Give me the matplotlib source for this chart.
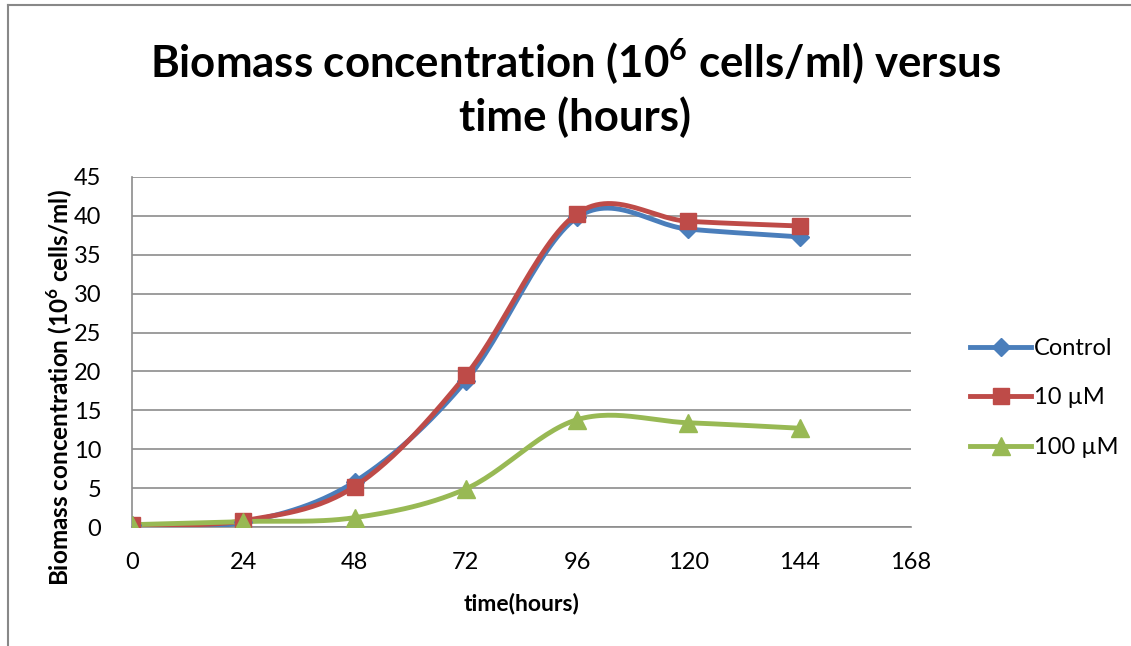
import matplotlib.pyplot as plt
from matplotlib.lines import Line2D
import numpy as np

plt.rcParams['font.family'] = ['Lato', 'DejaVu Sans']
plt.rcParams['mathtext.fontset'] = 'custom'
plt.rcParams['mathtext.rm'] = 'Lato'
plt.rcParams['mathtext.bf'] = 'Lato:bold'

hours = [0, 24, 48, 72, 96, 120, 144]
control = [0.2, 0.6, 5.8, 18.8, 39.8, 38.3, 37.3]
um10 = [0.3, 0.8, 5.2, 19.5, 40.3, 39.3, 38.7]
um100 = [0.3, 0.7, 1.2, 4.9, 13.8, 13.4, 12.7]
xticks = [0, 24, 48, 72, 96, 120, 144, 168]


def smooth(x, y, n=30):
    # Excel-like smoothed line: cubic bezier with catmull-rom control points
    x = np.asarray(x, float)
    y = np.asarray(y, float)
    p = np.column_stack([x, y])
    out = [p[0]]
    for i in range(len(p) - 1):
        p0 = p[i - 1] if i > 0 else p[i]
        p3 = p[i + 2] if i + 2 < len(p) else p[i + 1]
        c1 = p[i] + (p[i + 1] - p0) / 6
        c2 = p[i + 1] - (p3 - p[i]) / 6
        t = np.linspace(0, 1, n)[1:, None]
        seg = ((1 - t) ** 3 * p[i] + 3 * (1 - t) ** 2 * t * c1
               + 3 * (1 - t) * t ** 2 * c2 + t ** 3 * p[i + 1])
        out.extend(seg)
    out = np.array(out)
    return out[:, 0], out[:, 1]


fig = plt.figure(figsize=(11.31, 6.46), dpi=100)
# outer chart border (left and top only visible)
fig.lines.append(Line2D([7.5 / 1131, 7.5 / 1131], [0, 1 - 5 / 646],
                        transform=fig.transFigure, color="#888888", lw=1.5))
fig.lines.append(Line2D([7.5 / 1131, 1], [1 - 5 / 646, 1 - 5 / 646],
                        transform=fig.transFigure, color="#888888", lw=1.5))

ax = fig.add_axes([132 / 1131, 1 - 527 / 646, (911 - 132) / 1131, (527 - 177) / 646])
ax.set_xlim(0, 168)
ax.set_ylim(0, 45)

series = [
    ("Control", control, "#4A7EBB", "D", 9),
    ("10 µM", um10, "#BE4B48", "s", 12),
    ("100 µM", um100, "#98B954", "^", 13),
]
for name, vals, col, mk, ms in series:
    sx, sy = smooth(hours, vals)
    ax.plot(sx, sy, color=col, lw=3.5, solid_capstyle="round", zorder=3)
    ax.plot(hours, vals, ls="none", marker=mk, ms=ms, color=col, zorder=4)
    ax.plot([], [], color=col, lw=3.5, marker=mk, ms=ms, label=name)

ax.set_xticks(xticks)
ax.set_yticks(range(0, 46, 5))
ax.grid(axis="y", color="#8C8C8C", lw=1.2)
ax.set_axisbelow(True)
ax.tick_params(length=0, labelsize=17)
ax.tick_params(axis="x", pad=18)
ax.tick_params(axis="y", pad=22)
for s in ["top", "right"]:
    ax.spines[s].set_visible(False)
for s in ["left", "bottom"]:
    ax.spines[s].set_color("#8C8C8C")
    ax.spines[s].set_linewidth(1.2)

ax.set_xlabel("time(hours)", fontsize=16.5, fontweight="bold", labelpad=14)
ax.set_ylabel(r"Biomass concentration (10$^{\mathbf{6}}$ cells/ml)", fontsize=17.5,
              fontweight="bold", va="center")
ax.yaxis.set_label_coords((60 - 132) / (911 - 132), (527 - 388) / (527 - 177))

fig.text(575 / 1131, 1 - 62 / 646, r"Biomass concentration (10$^{\mathbf{6}}$ cells/ml) versus",
         ha="center", va="center", fontsize=31.5, fontweight="bold")
fig.text(575 / 1131, 1 - 117 / 646, "time (hours)",
         ha="center", va="center", fontsize=31.5, fontweight="bold")

fig.legend(loc="center left", bbox_to_anchor=(970 / 1131, 1 - 398 / 646),
           frameon=False, fontsize=17, handlelength=2.6, handletextpad=0.1,
           labelspacing=1.2, borderpad=0, borderaxespad=0)

fig.savefig("out.png", dpi=100)
